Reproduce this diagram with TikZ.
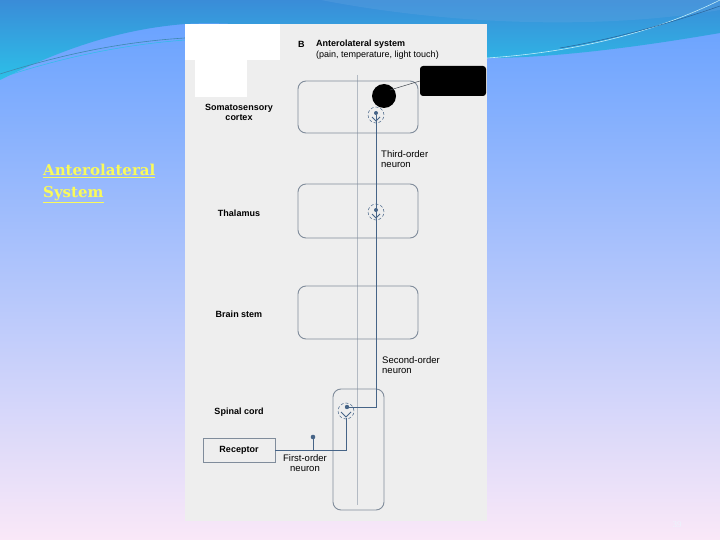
\documentclass[tikz,border=0pt]{standalone}
\usepackage{fontspec}
\setmainfont{Liberation Serif}
\setsansfont{Liberation Sans}
\newfontfamily\linkfont{DejaVu Serif}
\usepackage{tikz}
\usetikzlibrary{shapes,arrows,positioning}

\definecolor{slidetop}{RGB}{100,160,255}
\definecolor{slidemid}{RGB}{160,200,246}
\definecolor{slidebot}{RGB}{250,232,248}
\definecolor{bandtop}{RGB}{58,140,216}
\definecolor{bandbot}{RGB}{44,192,232}
\definecolor{panelgray}{RGB}{238,238,238}
\definecolor{boxline}{RGB}{128,140,155}
\definecolor{nervecol}{RGB}{70,100,135}
\definecolor{linkyellow}{RGB}{250,250,90}

\tikzset{
  region/.style={draw=boxline, line width=0.9pt, rounded corners=8pt},
  lbl/.style={font=\sffamily\fontsize{9.5}{10}\selectfont, align=center, inner sep=0pt},
  boldlbl/.style={font=\sffamily\bfseries\fontsize{9}{10}\selectfont, align=center, inner sep=0pt},
  nerve/.style={draw=nervecol, line width=1pt},
  synring/.style={circle, draw=nervecol, densely dashed, line width=0.5pt, minimum size=16pt, inner sep=0pt}
}

\begin{document}
\begin{tikzpicture}[x=1pt,y=-1pt]
    \useasboundingbox (0,0) rectangle (720,540);

    % slide background
    \shade[top color=slidetop, middle color=slidemid, bottom color=slidebot] (0,0) rectangle (720,540);
    \shade[top color=bandtop, bottom color=bandbot] (0,0) -- (720,0) -- (720,33)
        .. controls (650,45) and (560,58) .. (487,58)
        .. controls (400,58) and (300,18) .. (185,24)
        .. controls (110,30) and (50,55) .. (0,80) -- cycle;
    \fill[bandtop!80!white, opacity=0.35] (321,0) .. controls (450,25) and (600,30) .. (720,10) -- (720,0) -- cycle;
    \draw[nervecol!60!bandbot, line width=0.6pt] (0,74) .. controls (60,55) and (120,42) .. (185,38);
    \draw[bandbot, line width=0.5pt] (0,78) .. controls (60,58) and (120,45) .. (185,40);
    \draw[white!70!bandbot, line width=0.6pt] (487,58) .. controls (580,52) and (660,30) .. (720,0);
    \draw[bandtop!70!black, line width=0.5pt] (560,48) .. controls (620,38) and (680,20) .. (720,6);

    % link text on the left
    \node[font=\linkfont\bfseries\fontsize{15}{22}\selectfont, text=linkyellow, align=left, anchor=north west, inner sep=0pt]
        (link) at (43,164) {\underline{Anterolateral}\\\underline{System}};

    % scanned figure panel
    \fill[panelgray] (185,24) rectangle (487,521);
    \fill[white] (185,24) rectangle (280,60);
    \fill[white] (195,60) rectangle (247,97);
    \draw[boxline!60, line width=0.4pt] (357,75) -- (357,505);

    % heading
    \node[font=\sffamily\bfseries\fontsize{9}{10}\selectfont, anchor=west, inner sep=0pt] (fig) at (298,44) {B};
    \node[font=\sffamily\bfseries\fontsize{9}{10}\selectfont, anchor=west, inner sep=0pt] (title) at (316,44) {Anterolateral system};
    \node[font=\sffamily\fontsize{9}{10}\selectfont, anchor=west, inner sep=0pt] (sub) at (316,55) {(pain, temperature, light touch)};

    % regions
    \foreach \nm/\ya/\yb in {cortex/81/133, thal/184/238, stem/286/339} {
        \draw[region] (298,\ya) rectangle (418,\yb);
    }
    \draw[region] (333,389) rectangle (384,510);

    % region labels
    \node[boldlbl] (lcortex) at (239,112) {Somatosensory\\cortex};
    \node[boldlbl] (lthal) at (239,213) {Thalamus};
    \node[boldlbl] (lstem) at (239,314) {Brain stem};
    \node[boldlbl] (lspinal) at (239,412) {Spinal cord};

    % receptor
    \node[draw=boxline, line width=0.9pt, fill=panelgray, minimum width=72pt, minimum height=24pt,
          boldlbl] (receptor) at (239,450) {Receptor};

    % synapses
    \node[synring] (syncx) at (376,115) {};
    \node[synring] (synth) at (376,212) {};
    \node[synring] (synsp) at (346,411) {};

    % neurons
    \coordinate (turn) at (376,407);
    \coordinate (foot) at (346,450);
    \coordinate (branch) at (313,450);
    \coordinate (twig) at (313,437);
    \draw[nerve] (synsp.center) ++(1,-4) -- (turn) -- (synth.center);
    \draw[nerve] (synth.center) ++(0,4) -- (syncx.center);
    \draw[nerve] (receptor.east) |- (foot) -- ++(0,-32);
    \draw[nerve] (branch) -- (twig);
    \fill[nervecol] (twig) circle (2.3pt);
    \foreach \nd in {syncx, synth} {
        \fill[nervecol] (\nd.center) ++(0,-2) circle (2pt);
        \draw[nerve, line width=0.8pt] (\nd.center) ++(-4,2) -- ++(4,4) -- ++(4,-4);
    }
    \fill[nervecol] (synsp.center) ++(1,-4) circle (2.2pt);
    \draw[nerve, line width=0.8pt] (synsp.center) ++(-5,1) -- ++(5,5) -- ++(5,-5);

    % masked callout
    \fill[black] (384,96) circle (12pt);
    \node[fill=black, rounded corners=3pt, minimum width=66pt, minimum height=30pt] (mask) at (453,81) {};
    \draw[boxline!50!black, line width=0.5pt] (390,90) -- (mask.west);

    % neuron labels
    \node[lbl, align=left, anchor=west] (third) at (381,159) {Third-order\\neuron};
    \node[lbl, align=left, anchor=west] (second) at (382,365) {Second-order\\neuron};
    \node[lbl] (first) at (305,463) {First-order\\neuron};

    % page number
    \node[text=white!80!slidemid, font=\fontsize{9}{10}\selectfont] (page) at (677,525) {39};
\end{tikzpicture}
\end{document}
